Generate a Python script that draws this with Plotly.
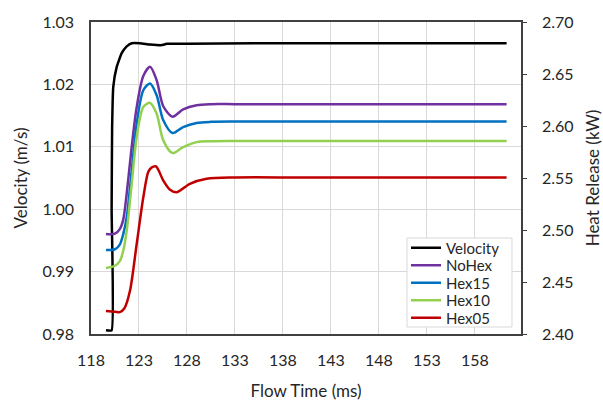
import plotly.graph_objects as go

# Velocity (left axis)
t_vel = [119.56, 120.15, 120.15, 120.2, 120.32, 120.68, 121.2, 121.72, 122.24, 123.1, 124.15, 125.36, 125.9, 128.0, 135.0, 145.0, 155.0, 161.3]
velocity = [0.9806, 0.9806, 1.0000, 1.0130, 1.0196, 1.0228, 1.0250, 1.0261, 1.0266, 1.0266, 1.0264, 1.0263, 1.0265, 1.0265, 1.0266, 1.0266, 1.0266, 1.0266]

# Heat release (right axis)
t_hr = [119.56, 120.5, 121.0, 121.36, 121.72, 122.24, 122.76, 123.45, 124.15, 124.84, 125.53, 126.5, 127.6, 129.0, 130.5, 133.0, 140.0, 150.0, 161.3]
nohex = [2.4962, 2.4965, 2.5009, 2.5100, 2.5350, 2.5800, 2.6180, 2.6480, 2.6569, 2.6440, 2.6190, 2.6090, 2.6160, 2.6200, 2.6210, 2.6210, 2.6210, 2.6210, 2.6210]
hex15 = [2.4807, 2.4815, 2.4860, 2.4960, 2.5122, 2.5572, 2.6023, 2.6344, 2.6409, 2.6296, 2.6055, 2.5932, 2.5990, 2.6029, 2.6040, 2.6043, 2.6043, 2.6043, 2.6043]
hex10 = [2.4634, 2.4656, 2.4700, 2.4800, 2.4994, 2.5444, 2.5894, 2.6183, 2.6222, 2.6119, 2.5862, 2.5740, 2.5797, 2.5845, 2.5853, 2.5855, 2.5855, 2.5855, 2.5855]

t_red = [119.56, 120.5, 121.0, 121.5, 122.06, 122.76, 123.45, 123.97, 124.3, 124.77, 125.53, 126.2, 126.93, 128.3, 130.05, 133.0, 140.0, 150.0, 161.3]
hex05 = [2.4222, 2.4215, 2.4210, 2.4250, 2.4415, 2.4865, 2.5315, 2.5560, 2.5600, 2.5611, 2.5476, 2.5390, 2.5363, 2.5444, 2.5492, 2.5505, 2.5505, 2.5505, 2.5505]

x_ticks = [118, 123, 128, 133, 138, 143, 148, 153, 158]

FONT = "Lato"
TXT = "#262626"

series = [
    ("Velocity", t_vel, velocity, "#000000", "y", 0.4),
    ("NoHex", t_hr, nohex, "#7030A0", "y2", 0.8),
    ("Hex15", t_hr, hex15, "#0070C0", "y2", 0.8),
    ("Hex10", t_hr, hex10, "#92D050", "y2", 0.8),
    ("Hex05", t_red, hex05, "#C00000", "y2", 0.8),
]
legend_names = ["legend", "legend2", "legend3", "legend4", "legend5"]
legend_y = [0.2756, 0.2196, 0.1635, 0.1074, 0.0513]

fig = go.Figure()
for (name, x, y, col, ax, sm), lg in zip(series, legend_names):
    fig.add_trace(go.Scatter(x=x, y=y, name=name, mode="lines", yaxis=ax, legend=lg,
                             line=dict(color=col, width=2.5, shape="spline", smoothing=sm)))

layout_legends = {}
for lg, ly in zip(legend_names, legend_y):
    layout_legends[lg] = dict(x=0.7326, y=ly, xanchor="left", yanchor="middle",
                              bgcolor="rgba(0,0,0,0)", borderwidth=0,
                              font=dict(family=FONT, size=15, color=TXT), itemwidth=30)

fig.update_layout(
    width=603, height=401,
    margin=dict(l=91, r=82, t=22, b=67),
    paper_bgcolor="white", plot_bgcolor="white",
    font=dict(family=FONT, size=16, color=TXT),
    xaxis=dict(range=[118, 162.8], tickvals=x_ticks, showgrid=True, gridcolor="#D9D9D9",
               gridwidth=1, showline=True, linecolor="#404040", linewidth=1.5, mirror=True,
               zeroline=False, ticks="", ticklabelstandoff=11, automargin=False,
               title=dict(text="Flow Time (ms)", standoff=20, font=dict(size=17))),
    yaxis=dict(range=[0.98, 1.03], dtick=0.01, tickformat=".2f", showgrid=True,
               gridcolor="#D9D9D9", gridwidth=1, showline=True, linecolor="#404040",
               linewidth=1.5, zeroline=False, ticks="", ticklabelstandoff=12, automargin=False,
               title=dict(text="Velocity (m/s)", standoff=10, font=dict(size=17))),
    yaxis2=dict(range=[2.40, 2.70], dtick=0.05, tickformat=".2f", overlaying="y",
                side="right", showgrid=False, showline=True, linecolor="#404040",
                linewidth=1.5, zeroline=False, ticks="outside", ticklen=4,
                tickcolor="#404040", ticklabelstandoff=12, automargin=False,
                title=dict(text="Heat Release (kW)", standoff=18, font=dict(size=17))),
    shapes=[dict(type="rect", xref="x domain", yref="y domain",
                 x0=0.7349, x1=0.979, y0=0.0224, y1=0.3077,
                 line=dict(color="#D9D9D9", width=1), fillcolor="white", layer="above")],
    showlegend=True,
    **layout_legends,
)

fig.write_html("out.html")
